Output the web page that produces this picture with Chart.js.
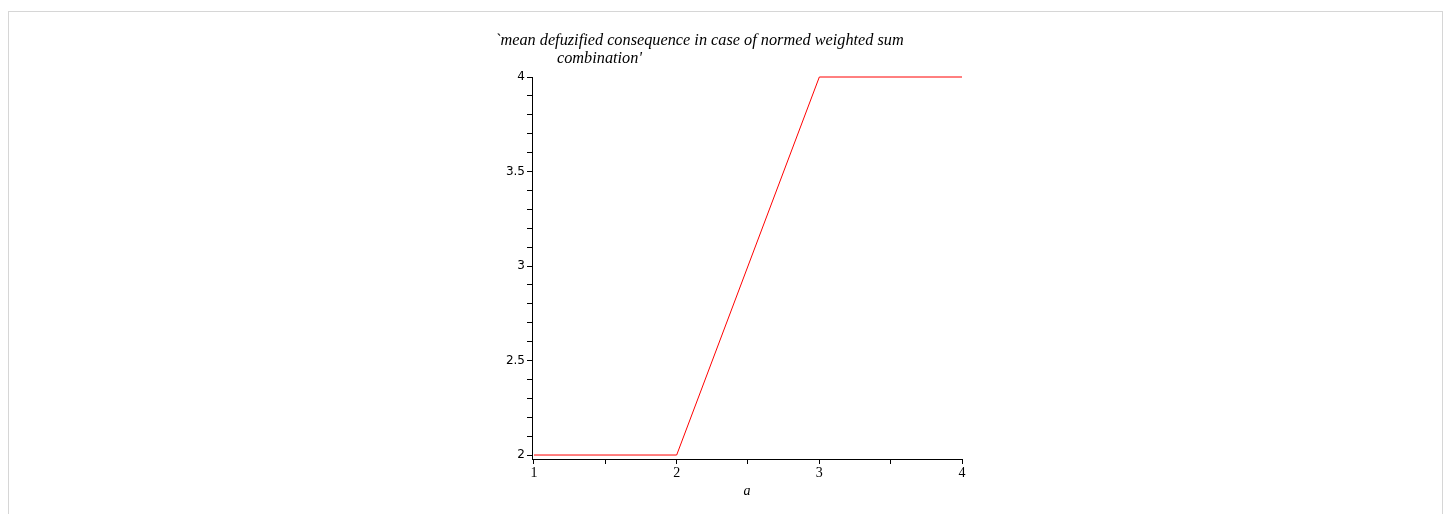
<!DOCTYPE html>
<html>
<head>
<meta charset="utf-8">
<script src="https://cdn.jsdelivr.net/npm/chart.js@4"></script>
<style>
  html, body { margin: 0; padding: 0; background: #fff; overflow: hidden; }
  #frame {
    position: absolute; left: 8px; top: 11px; width: 1435px; height: 520px;
    border: 1px solid #d6d6d6; box-sizing: border-box;
  }
  #wrap { position: absolute; left: 0; top: 0; width: 1453px; height: 514px; }
</style>
</head>
<body>
<div id="frame"></div>
<div id="wrap"><canvas id="plot"></canvas></div>
<script>
// data
const aValues = [1, 2, 3, 4];
const consequence = [2, 2, 4, 4];

// axis ticks (Maple style: majors labelled, minors blank)
const xTicks = [1, 1.5, 2, 2.5, 3, 3.5, 4];
const xTickLabels = [1, 2, 3, 4];
const yTicks = [2, 2.1, 2.2, 2.3, 2.4, 2.5, 2.6, 2.7, 2.8, 2.9, 3, 3.1, 3.2, 3.3, 3.4, 3.5, 3.6, 3.7, 3.8, 3.9, 4];
const yTickLabels = [2, 2.5, 3, 3.5, 4];

const titleLines = ["`mean defuzified consequence in case of normed weighted sum", "combination'"];

function isLabelled(list, v) {
  return list.some(function (t) { return Math.abs(t - v) < 1e-6; });
}

// title drawn the way Maple wraps it (second line indented)
const mapleTitle = {
  id: 'mapleTitle',
  afterDraw(chart) {
    const ctx = chart.ctx;
    const area = chart.chartArea;
    ctx.save();
    ctx.fillStyle = '#000';
    ctx.font = 'italic 16.3px "Liberation Serif"';
    ctx.textBaseline = 'alphabetic';
    ctx.fillText(titleLines[0], area.left - 37, area.top - 32);
    ctx.fillText(titleLines[1], area.left + 25, area.top - 14);
    ctx.restore();
  }
};

const canvas = document.getElementById('plot');
canvas.width = 1453;
canvas.height = 514;

new Chart(canvas.getContext('2d'), {
  type: 'line',
  data: {
    datasets: [{
      data: aValues.map(function (a, i) { return { x: a, y: consequence[i] }; }),
      borderColor: '#ff0000',
      borderWidth: 1,
      pointRadius: 0,
      tension: 0,
      fill: false,
      clip: false
    }]
  },
  options: {
    responsive: false,
    animation: false,
    layout: { padding: { left: 492, right: 491, top: 77, bottom: 10 } },
    plugins: { legend: { display: false }, tooltip: { enabled: false } },
    scales: {
      x: {
        type: 'linear',
        min: 0.986,
        max: 4,
        afterBuildTicks: function (s) { s.ticks = xTicks.map(function (v) { return { value: v }; }); },
        afterFit: function (s) { s.height = 45; },
        ticks: {
          autoSkip: false,
          maxRotation: 0,
          padding: 1,
          color: '#000',
          font: { family: '"Liberation Serif"', size: 14 },
          callback: function (v) { return isLabelled(xTickLabels, v) ? String(v) : ''; }
        },
        grid: { drawOnChartArea: false, drawTicks: true, tickLength: 5, color: '#000' },
        border: { display: true, color: '#000', width: 1 },
        title: {
          display: true,
          text: 'a',
          color: '#000',
          font: { family: '"Liberation Serif"', size: 14, style: 'italic' },
          padding: { top: 0, bottom: 4 }
        }
      },
      y: {
        type: 'linear',
        min: 1.979,
        max: 4,
        afterBuildTicks: function (s) { s.ticks = yTicks.map(function (v) { return { value: v }; }); },
        afterFit: function (s) { s.width = 40; },
        ticks: {
          autoSkip: false,
          padding: 2,
          color: '#000',
          font: { family: '"DejaVu Sans"', size: 12 },
          callback: function (v) { return isLabelled(yTickLabels, v) ? String(Math.round(v * 10) / 10) : ''; }
        },
        grid: { drawOnChartArea: false, drawTicks: true, tickLength: 5, color: '#000' },
        border: { display: true, color: '#000', width: 1 }
      }
    }
  },
  plugins: [mapleTitle]
});
</script>
</body>
</html>
